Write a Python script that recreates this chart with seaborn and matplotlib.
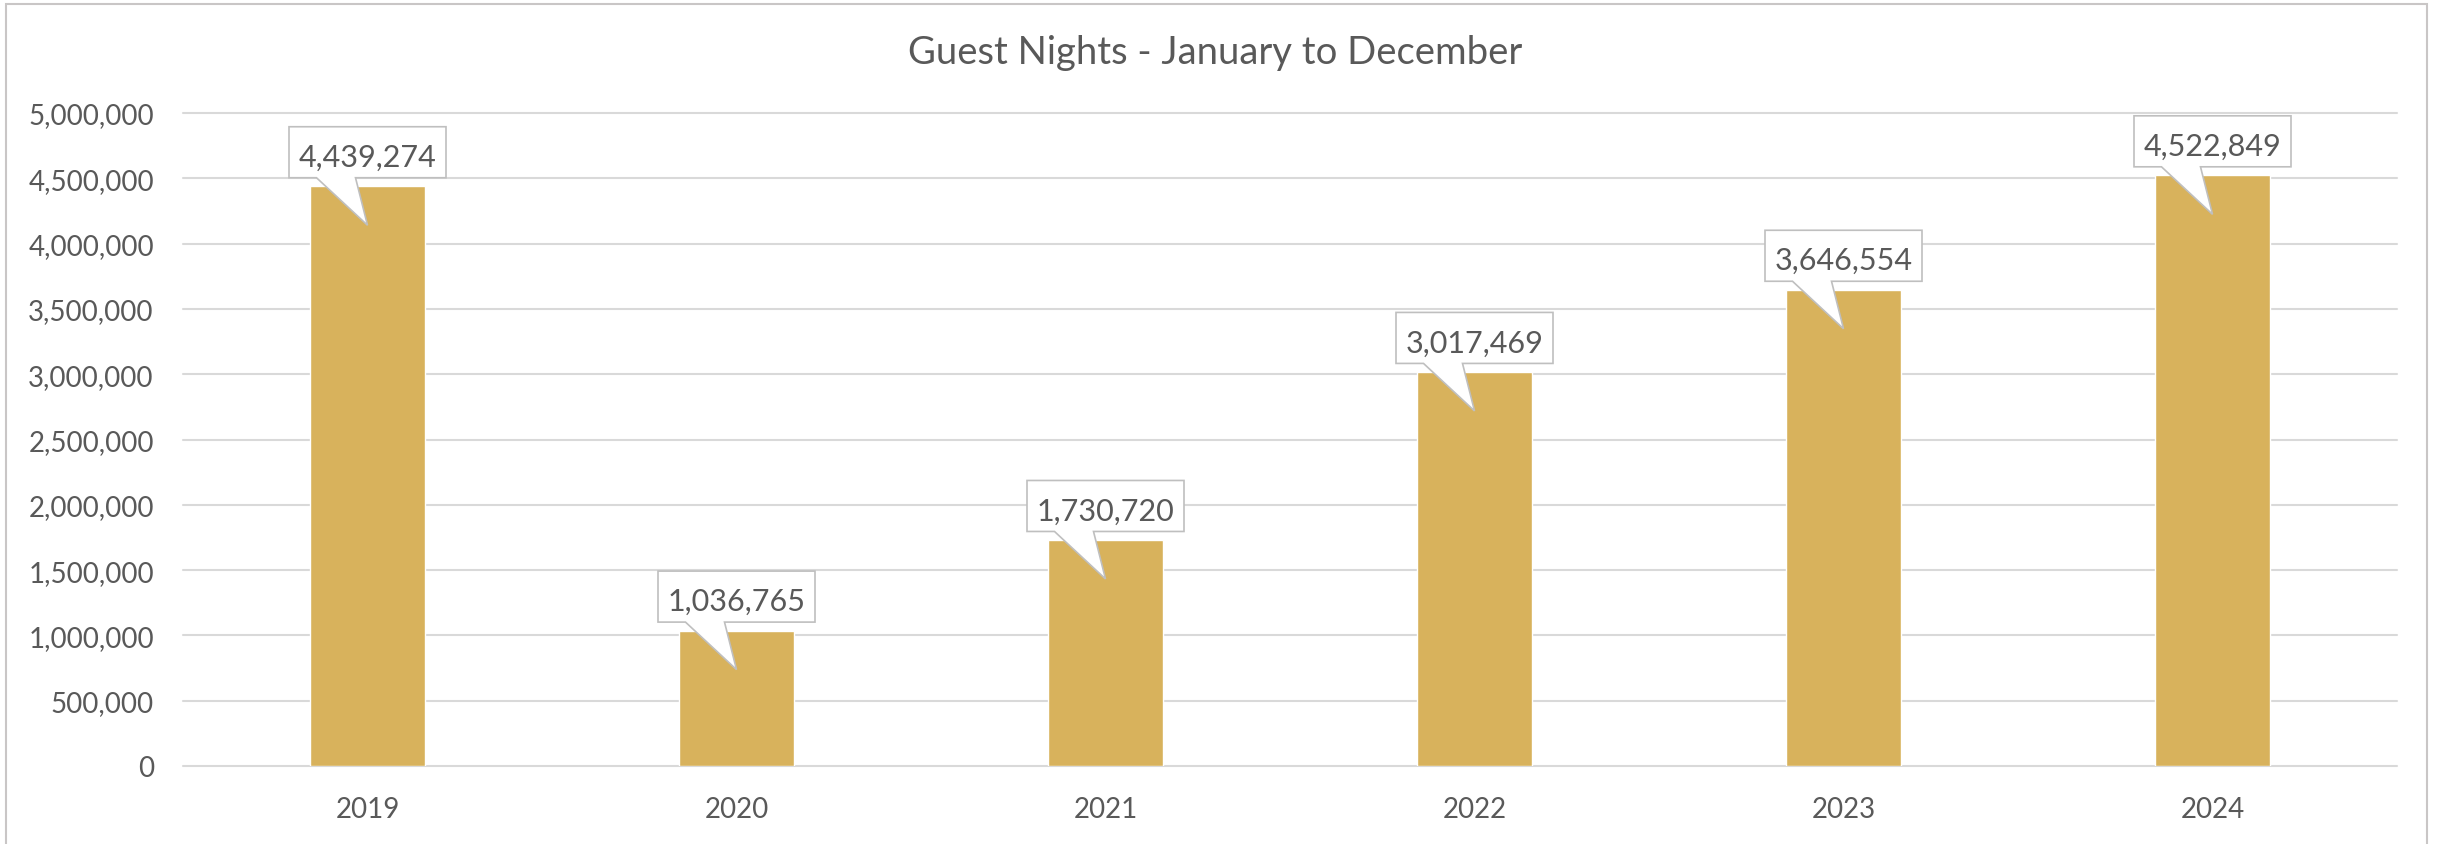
import numpy as np
import matplotlib
matplotlib.use("Agg")
import matplotlib.pyplot as plt
import matplotlib.transforms as mtransforms
from matplotlib.patches import Polygon, Rectangle
from matplotlib.ticker import FuncFormatter
import seaborn as sns
import pandas as pd

# data
years = ["2019", "2020", "2021", "2022", "2023", "2024"]
guest_nights = [4439274, 1036765, 1730720, 3017469, 3646554, 4522849]
title = "Guest Nights - January to December"

bar_color = "#D8B25C"
text_color = "#595959"
grid_color = "#D9D9D9"

sns.set_theme(style="white")
plt.rcParams["font.family"] = ["Lato", "DejaVu Sans"]

df = pd.DataFrame({"year": years, "nights": guest_nights})

W, H = 2440, 845
fig = plt.figure(figsize=(W / 100, H / 100), dpi=100)
ax = fig.add_axes([183 / W, 1 - 767 / H, (2397 - 183) / W, (767 - 114) / H])

sns.barplot(data=df, x="year", y="nights", color=bar_color, width=0.314,
            saturation=1, ax=ax, zorder=2)

ax.set_xlim(-0.5, len(years) - 0.5)
ax.set_ylim(0, 5000000)
ax.set_yticks(np.arange(0, 5000001, 500000))
ax.yaxis.set_major_formatter(FuncFormatter(lambda v, p: f"{v:,.0f}"))
ax.set_xlabel("")
ax.set_ylabel("")

# gridlines
ax.yaxis.grid(True, color=grid_color, linewidth=1.5, zorder=0)
for gl in ax.get_ygridlines():
    gl.set_clip_on(False)
ax.set_axisbelow(True)
for s in ax.spines.values():
    s.set_visible(False)

ax.tick_params(axis="y", length=0, pad=21, labelsize=20, labelcolor=text_color)
ax.tick_params(axis="x", length=0, pad=21.5, labelsize=20, labelcolor=text_color)

# callout shape in pixel offsets from the top centre of each bar
hw, bot, top, tip = 78.5, 8.5, 59.5, -39
shape = [(-hw, bot), (-51, bot), (0, tip), (-12, bot), (hw, bot),
         (hw, top), (-hw, top)]

for i, v in enumerate(guest_nights):
    trans = mtransforms.Affine2D() + mtransforms.ScaledTranslation(i, v, ax.transData)
    ax.add_patch(Polygon(shape, closed=True, facecolor="white", edgecolor="#BFBFBF",
                         linewidth=1.2, transform=trans, zorder=4, clip_on=False))
    ax.annotate(f"{v:,}", xy=(i, v), xytext=(0, 20.5), textcoords="offset pixels",
                ha="center", va="baseline", fontsize=22, color=text_color, zorder=5)

fig.text(1215 / W, 1 - 53 / H, title, ha="center", va="center",
         fontsize=27.5, color=text_color)

# outer chart border
fig.patches.append(Rectangle((6 / W, -0.05), (2427 - 6) / W, 1 - 5 / H + 0.05,
                             transform=fig.transFigure, fill=False,
                             edgecolor="#C9C6C6", linewidth=1.5))

fig.savefig("out.png", dpi=100)
